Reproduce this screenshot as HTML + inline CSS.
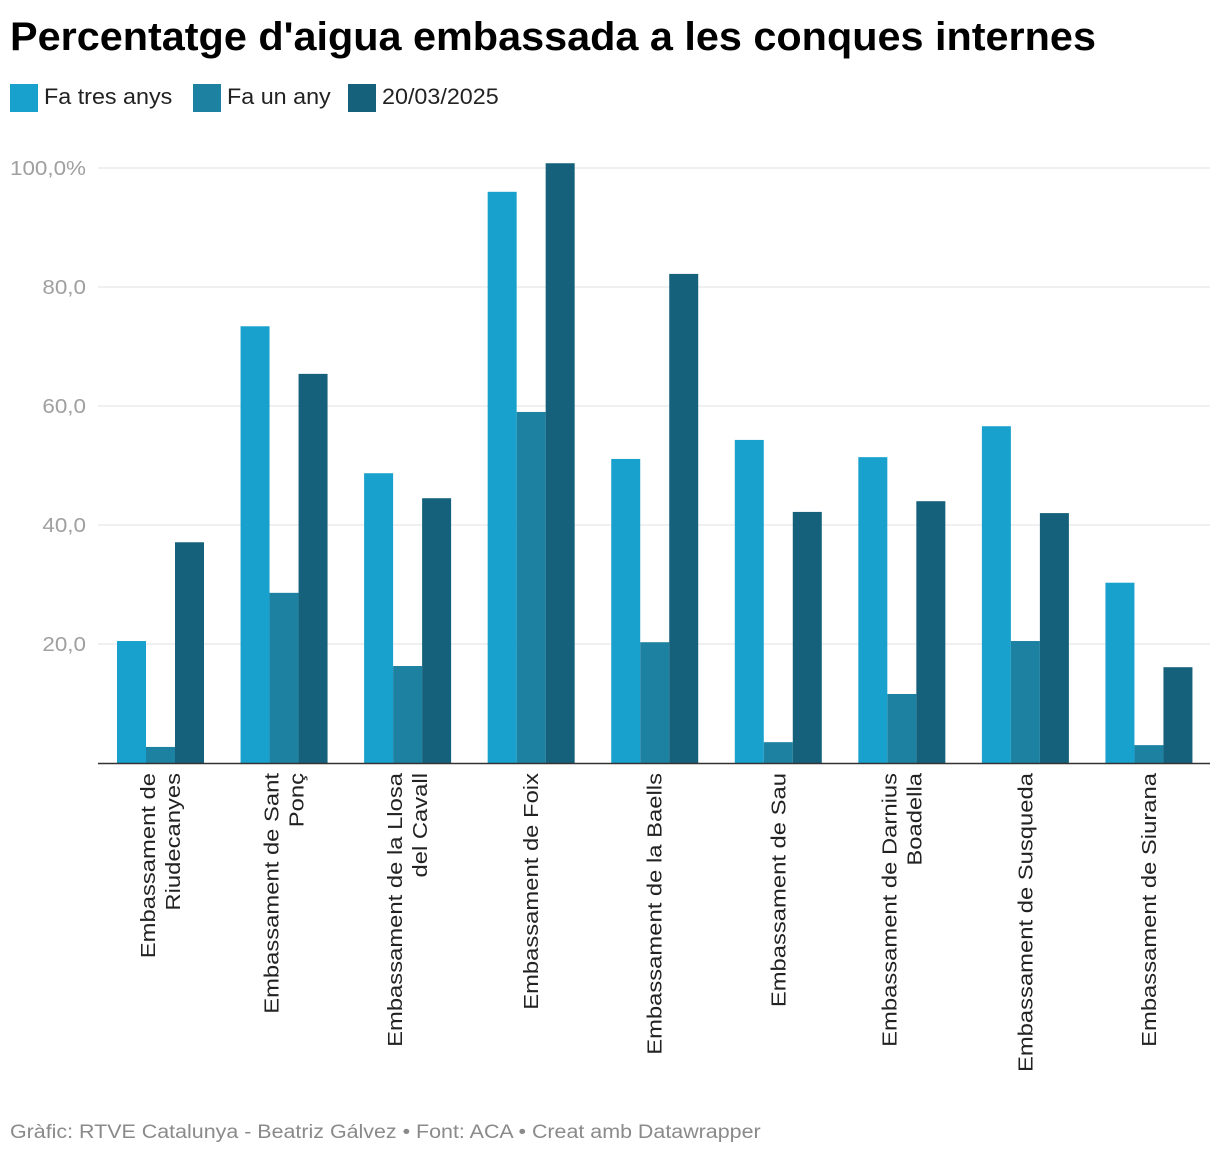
<!DOCTYPE html>
<html><head><meta charset="utf-8"><style>
body{margin:0;background:#fff;font-family:"Liberation Sans",sans-serif;}
#wrap{position:relative;width:1220px;height:1154px;overflow:hidden}
</style></head><body>
<div id="wrap">
<svg id="chart" width="1220" height="1154"></svg>
</div>
<script>
const categories=[["Embassament de","Riudecanyes"],["Embassament de Sant","Ponç"],["Embassament de la Llosa","del Cavall"],["Embassament de Foix"],["Embassament de la Baells"],["Embassament de Sau"],["Embassament de Darnius","Boadella"],["Embassament de Susqueda"],["Embassament de Siurana"]];
const seriesNames=["Fa tres anys","Fa un any","20/03/2025"];
const threeYears=[20.5,73.4,48.7,96.0,51.1,54.3,51.4,56.6,30.3];
const oneYear=[2.7,28.6,16.3,59.0,20.3,3.5,11.6,20.5,3.0];
const today=[37.1,65.4,44.5,100.8,82.2,42.2,44.0,42.0,16.1];
const yTicks=[20,40,60,80,100];
const yTickLabels=["20,0","40,0","60,0","80,0","100,0%"];
const colors=["#18a1cd","#1d81a2","#15607a"];
const NS="http://www.w3.org/2000/svg";
const svg=document.getElementById("chart");
function mk(t,a,txt){const e=document.createElementNS(NS,t);for(const k in a)e.setAttribute(k,a[k]);if(txt!=null)e.textContent=txt;svg.appendChild(e);return e;}
function stretch(e,f){const L=e.getComputedTextLength();e.setAttribute("textLength",L*f);e.setAttribute("lengthAdjust","spacingAndGlyphs");}
const x0=98,x1=1210,y0=763,pxPer=5.95;
const y=v=>y0-v*pxPer;
const gw=(x1-x0)/categories.length;
const bx=(g,s)=>x0+g*gw+19+s*29;
let t=mk("text",{x:10,y:50,"font-size":"40","font-weight":"bold",fill:"#000"},"Percentatge d'aigua embassada a les conques internes");


stretch(t,1085/1049);
let lx=[10,193,348];
seriesNames.forEach((n,i)=>{
 let r=mk("rect",{x:lx[i],y:84,width:28,height:28,fill:colors[i]});
 
 
 let tx=mk("text",{x:lx[i]+34,y:104,"font-size":"22",fill:"#222"},n);
 
 
 stretch(tx,1.06);
});
yTicks.forEach((v,i)=>{
 let l=mk("line",{x1:x0,x2:x1,y1:y(v),y2:y(v),stroke:"#e2e2e2","stroke-width":1});
 
 
 let tx=mk("text",{x:86,y:y(v)+7,"font-size":"20",fill:"#a0a0a0","text-anchor":"end"},yTickLabels[i]);
 
 
 stretch(tx,1.12);
});
[threeYears,oneYear,today].forEach((arr,s)=>{
 arr.forEach((v,g)=>{
  let r=mk("rect",{x:bx(g,s),y:y(v),width:29,height:v*pxPer,fill:colors[s]});
  
  
 });
});
let ax=mk("line",{x1:x0,x2:x1,y1:y0+0.5,y2:y0+0.5,stroke:"#333","stroke-width":1.5});


categories.forEach((lines,g)=>{
 const cx=x0+g*gw+19+43.5;
 const n=lines.length;
 lines.forEach((ln,j)=>{
  const xx=cx+(j-(n-1)/2)*25+7;
  let tx=mk("text",{x:xx,y:773,"font-size":"20",fill:"#222","text-anchor":"end",transform:`rotate(-90 ${xx} 773)`},ln);
  
  
  stretch(tx,1.19);
 });
});
let f=mk("text",{x:10,y:1138,"font-size":"19",fill:"#8a8a8a"},"Gràfic: RTVE Catalunya - Beatriz Gálvez  • Font: ACA • Creat amb Datawrapper");


stretch(f,750/665);
</script>
</body></html>
